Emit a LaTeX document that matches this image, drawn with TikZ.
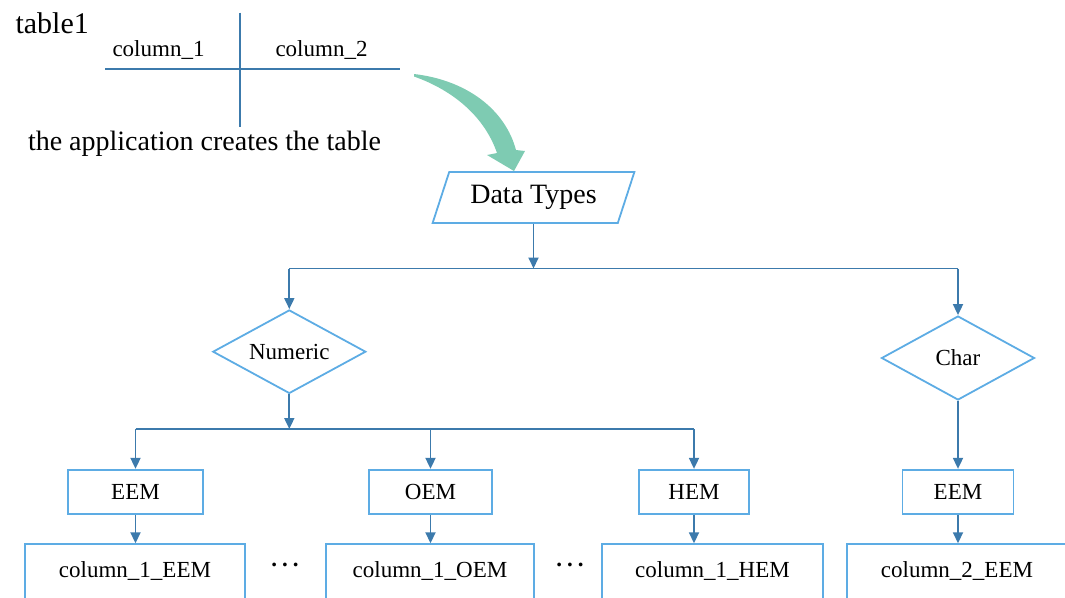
\documentclass[tikz,border=0pt]{standalone}
\usepackage{fontspec}
\setmainfont{Liberation Serif}
\usetikzlibrary{shapes.geometric,arrows.meta}
\definecolor{boxblue}{RGB}{93,172,228}
\definecolor{linkblue}{RGB}{60,122,172}
\definecolor{mint}{RGB}{126,203,178}
\begin{document}
\begin{tikzpicture}[x=1pt,y=-1pt,
  big/.style={font=\fontsize{28pt}{32pt}\selectfont},
  sm/.style={font=\fontsize{23pt}{26pt}\selectfont},
  blk/.style={sm,draw=boxblue,line width=1.8pt,minimum height=44.5pt,inner sep=0pt},
  dec/.style={sm,draw=boxblue,line width=1.8pt,diamond,aspect=1.8,inner sep=0pt},
  colbox/.style={sm,draw=boxblue,line width=1.8pt,anchor=north,inner xsep=0pt,
    inner ysep=17pt,text height=16pt,text depth=30pt},
  wire/.style={draw=linkblue,line width=1.8pt},
  link/.style={wire,-{Triangle[length=11pt,width=10pt]}}]
\clip (0,0) rectangle (1065,597);
% the table
\node[font=\fontsize{30pt}{34pt}\selectfont,anchor=base west] (tname) at (12,33) {table1};
\node[sm,anchor=base] (col1) at (158.5,56) {column\_1};
\node[sm,anchor=base] (col2) at (321.5,56) {column\_2};
\coordinate (vt) at (240,12.7); \coordinate (vb) at (240,126.7);
\coordinate (hl) at (105,69); \coordinate (hr) at (400,69);
\draw[wire] (vt) -- (vb);
\draw[wire] (hl) -- (hr);
\node[big,anchor=base] (cap) at (204.5,150) {the application creates the table};
\fill[mint] (414,74) .. controls (466,80) and (505,109) .. (516,150) -- (525,151)
  -- (514,171) -- (487,155) -- (497,153) .. controls (485,118) and (455,91) .. (414,76.5) -- cycle;
% types
\node[big,draw=boxblue,line width=1.8pt,trapezium,trapezium left angle=63,
  trapezium right angle=117,trapezium stretches,minimum width=202pt,
  minimum height=51pt,inner sep=0pt] (dt) at (533.5,197.5) {Data Types};
\node[dec,minimum width=153pt,minimum height=83.5pt] (num) at (289.3,351.7) {Numeric};
\node[dec,minimum width=153pt,minimum height=84pt] (chr) at (958,358) {Char};
\node[blk,minimum width=135pt] (eem) at (135.5,492) {EEM};
\node[blk,minimum width=123pt] (oem) at (430.5,492) {OEM};
\node[blk,minimum width=110pt] (hem) at (694,492) {HEM};
\node[blk,minimum width=111pt] (eemc) at (958,492) {EEM};
\node[colbox,minimum width=220pt] (ceem) at (135,543.3) {column\_1\_EEM};
\node[colbox,minimum width=208pt] (coem) at (430,543.3) {column\_1\_OEM};
\node[colbox,minimum width=221pt] (chem) at (712.5,543.3) {column\_1\_HEM};
\node[colbox,minimum width=220pt] (ceemc) at (957,543.3) {column\_2\_EEM};
\node[sm,anchor=base] (dots1) at (285,566) {\bfseries .\hspace{5pt}.\hspace{5pt}.};
\node[sm,anchor=base] (dots2) at (570,566) {\bfseries .\hspace{5pt}.\hspace{5pt}.};
% connectors
\coordinate (j1) at (533.5,268.5);
\coordinate (j2) at (289.3,429);
\draw[link] (dt) -- (j1);
\draw[wire] (j1 -| num) -- (j1 -| chr);
\draw[link] (j1 -| num) -- (num);
\draw[link] (j1 -| chr) -- (chr);
\draw[link] (num) -- (j2);
\draw[wire] (j2 -| eem) -- (j2 -| hem);
\foreach \n in {eem,oem,hem} \draw[link] (j2 -| \n) -- (\n);
\draw[link] (chr) -- (eemc);
\foreach \n/\m in {eem/ceem,oem/coem,hem/chem,eemc/ceemc}
  \draw[link] (\n) -- (\n |- \m.north);
\end{tikzpicture}
\end{document}
